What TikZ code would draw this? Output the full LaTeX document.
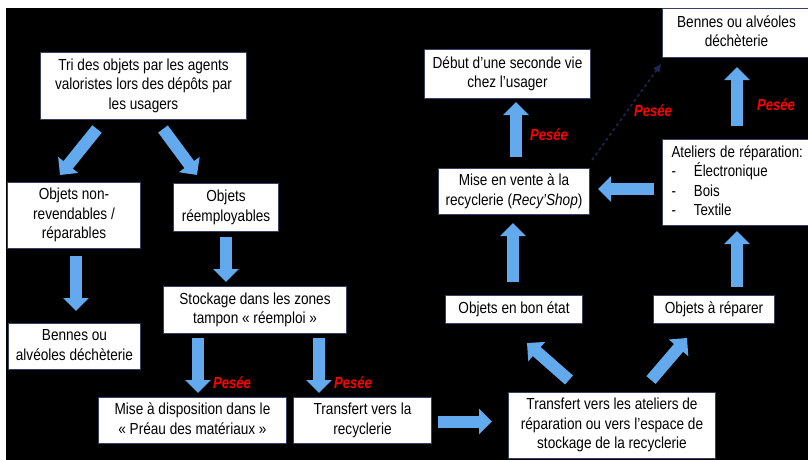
\documentclass[tikz,border=0pt]{standalone}
\usepackage{fontspec}
\setmainfont{Liberation Sans}
\usepackage{graphicx}
\usetikzlibrary{arrows.meta,calc}
\definecolor{arrowblue}{RGB}{99,169,238}
\definecolor{boxline}{RGB}{55,65,95}
\definecolor{dashblue}{RGB}{25,40,85}
\newcommand\bt[1]{\scalebox{0.85}[1]{\begin{tabular}{@{}c@{}}#1\end{tabular}}}
\newcommand\bl[1]{\scalebox{0.83}[1]{\begin{tabular}{@{}l@{}}#1\end{tabular}}}
\begin{document}
\begin{tikzpicture}[x=1pt,y=-1pt,
  box/.style={draw=boxline, line width=1pt, fill=white, inner sep=0pt, anchor=north west, align=center, font=\fontsize{16}{19.5}\selectfont},
  blk/.style={draw=arrowblue, line width=12pt, -{Triangle[width=25pt,length=13pt]}},
  pesee/.style={text=red, font=\fontsize{16}{19}\selectfont\bfseries\itshape, inner sep=0pt},
  dasharrow/.style={draw=dashblue, line width=1.6pt, dashed, -{Triangle[width=7pt,length=8pt]}}]
\useasboundingbox (0,0) rectangle (808,460);
\fill[white] (0,0) rectangle (808,460);
\fill[black] (6,8) rectangle (808,460);

% boxes
\node[box, minimum width=206pt, minimum height=67pt] (tri) at (40,52) {\bt{Tri des objets par les agents\\valoristes lors des dépôts par\\les usagers}};
\node[box, minimum width=133pt, minimum height=66pt] (nonrev) at (7,182) {\bt{Objets non-\\revendables /\\réparables}};
\node[box, minimum width=105pt, minimum height=48pt] (reemp) at (173,183) {\bt{Objets\\réemployables}};
\node[box, minimum width=132pt, minimum height=46pt] (bennesL) at (8,323) {\bt{Bennes ou\\alvéoles déchèterie}};
\node[box, minimum width=183pt, minimum height=47pt] (stock) at (163,286) {\bt{Stockage dans les zones\\tampon « réemploi »}};
\node[box, minimum width=188pt, minimum height=46pt] (preau) at (98,397) {\bt{Mise à disposition dans le\\« Préau des matériaux »}};
\node[box, minimum width=138pt, minimum height=46pt] (transR) at (293,397) {\bt{Transfert vers la\\recyclerie}};
\node[box, minimum width=207pt, minimum height=66pt] (transA) at (508,392) {\bt{Transfert vers les ateliers de\\réparation ou vers l’espace de\\stockage de la recyclerie}};
\node[box, minimum width=137pt, minimum height=28pt] (bon) at (445,295) {\bt{Objets en bon état}};
\node[box, minimum width=121pt, minimum height=28pt] (rep) at (653,295) {\bt{Objets à réparer}};
\node[box, minimum width=151pt, minimum height=46pt] (vente) at (438,168) {\bt{Mise en vente à la\\recyclerie (\textit{Recy’Shop})}};
\node[box, minimum width=166pt, minimum height=49pt] (debut) at (424,49) {\bt{Début d’une seconde vie\\chez l’usager}};
\node[box, minimum width=150pt, minimum height=86pt, align=left, text width=150pt] (ateliers) at (662,139) {\hspace*{9pt}\bl{Ateliers de réparation:\\\makebox[27pt][l]{-}Électronique\\\makebox[27pt][l]{-}Bois\\\makebox[27pt][l]{-}Textile}};
\node[box, minimum width=150pt, minimum height=49pt] (bennesR) at (662,8) {\hspace*{-2pt}\bt{Bennes ou alvéoles\\déchèterie}};

% block arrows
\draw[blk] ($(tri.south west)+(57,9)$) -- ($(nonrev.north west)+(53,-7)$);
\draw[blk] ($(tri.south west)+(123,9)$) -- ($(reemp.north west)+(24,-8)$);
\draw[blk] ($(nonrev.south west)+(69,7)$) -- ($(bennesL.north west)+(68,-12)$);
\draw[blk] ($(reemp.south west)+(53,5)$) -- ($(stock.north west)+(63,-4)$);
\draw[blk] ($(stock.south west)+(35,4)$) -- ($(preau.north west)+(100,-4)$);
\draw[blk] ($(stock.south west)+(156,4)$) -- ($(transR.north west)+(26,-4)$);
\draw[blk] ($(transR.east)+(6,1)$) -- ($(transA.west)+(-16,-4)$);
\draw[blk] ($(transA.north west)+(61,-12)$) -- ($(bon.south west)+(82,19)$);
\draw[blk] ($(transA.north west)+(143,-12)$) -- ($(rep.south west)+(34,14)$);
\draw[blk] ($(bon.north west)+(68,-13)$) -- ($(vente.south west)+(75,8)$);
\draw[blk] ($(rep.north west)+(84,-8)$) -- ($(ateliers.south west)+(75,5)$);
\draw[blk] ($(ateliers.north west)+(-8,50)$) -- ($(vente.north east)+(8,21)$);
\draw[blk] ($(vente.north west)+(78,-11)$) -- ($(debut.south west)+(92,3)$);
\draw[blk] ($(ateliers.north west)+(75,-13)$) -- ($(bennesR.south west)+(75,9)$);
\draw[dasharrow] ($(vente.north east)+(2,-8)$) -- ($(bennesR.south west)+(-1,6)$);

% labels
\node[pesee] (p1) at (232,383) {\scalebox{0.82}[1]{Pesée}};
\node[pesee] (p2) at (353,383) {\scalebox{0.82}[1]{Pesée}};
\node[pesee] (p3) at (549,135) {\scalebox{0.82}[1]{Pesée}};
\node[pesee] (p4) at (653,111) {\scalebox{0.82}[1]{Pesée}};
\node[pesee] (p5) at (776,105) {\scalebox{0.82}[1]{Pesée}};
\end{tikzpicture}
\end{document}
